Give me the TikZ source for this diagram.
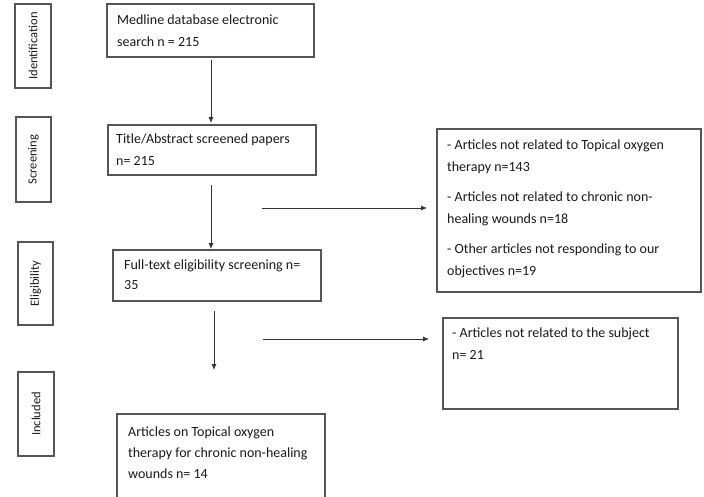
\documentclass[tikz,border=0pt]{standalone}
\usepackage{fontspec}
\setmainfont{Carlito}
\usetikzlibrary{arrows.meta}
\definecolor{boxgray}{HTML}{555555}
\definecolor{linegray}{HTML}{333333}
\definecolor{txtcol}{HTML}{1A1A1A}
\begin{document}
\begin{tikzpicture}[x=1pt,y=-1pt,
  box/.style={draw=boxgray,line width=1.1pt,inner sep=0pt,outer sep=0pt,anchor=north west},
  side/.style={rotate=90,inner sep=0pt,text=txtcol,font=\fontsize{12.5}{15}\selectfont},
  txt/.style={anchor=north west,inner sep=0pt,align=left,text=txtcol,font=\fontsize{14}{22}\selectfont},
  arr/.style={draw=linegray,line width=0.8pt,-{Latex[length=6pt,width=5pt]}},
  ln/.style={draw=linegray,line width=0.8pt}]
\useasboundingbox[fill=white] (0,0) rectangle (704,497);

% stage boxes
\node[box,minimum width=36pt,minimum height=84pt] (sid) at (15,4) {};
\node[side] (lid) at (sid.center) {Identification};
\node[box,minimum width=35pt,minimum height=85pt] (ssc) at (16,117) {};
\node[side] (lsc) at (ssc.center) {Screening};
\node[box,minimum width=35pt,minimum height=83pt] (sel) at (18,242) {};
\node[side] (lel) at (sel.center) {Eligibility};
\node[box,minimum width=36pt,minimum height=84pt] (sin) at (18,372) {};
\node[side] (lin) at (sin.center) {Included};

% main boxes
\node[box,minimum width=207pt,minimum height=53pt] (b1) at (107,4) {};
\node[txt] (t1) at (117,8.6) {\strut Medline database electronic\\search n = 215};
\node[box,minimum width=208pt,minimum height=50pt] (b2) at (108,125) {};
\node[txt] (t2) at (116,127.6) {\strut Title/Abstract screened papers\\n= 215};
\node[box,minimum width=208pt,minimum height=51pt] (b3) at (113,250) {};
\node[txt] (t3) at (124,253.6) {\strut Full-text eligibility screening n=\\[-2pt]35};
\node[box,minimum width=208pt,minimum height=90pt] (b4) at (117,414) {};
\node[txt] (t4) at (128,420.6) {\strut Articles on Topical oxygen\\[-1pt]therapy for chronic non-healing\\[-1pt]wounds n= 14};

% exclusion boxes
\node[box,minimum width=264pt,minimum height=163pt] (r1) at (437,129) {};
\node[txt] (tr1) at (447,133.6) {\strut - Articles not related to Topical oxygen\\therapy n=143\\[8pt]- Articles not related to chronic non-\\healing wounds n=18\\[8pt]- Other articles not responding to our\\objectives n=19};
\node[box,minimum width=235pt,minimum height=91pt] (r2) at (443,318) {};
\node[txt] (tr2) at (452,321.6) {\strut - Articles not related to the subject\\n= 21};

% connectors
\draw[arr] ([xshift=0.5pt,yshift=-3pt]b1.south) -- ([xshift=0.5pt,yshift=2pt]b1.south |- b2.north);
\draw[arr] ([xshift=-1pt,yshift=-10pt]b2.south) -- ([xshift=-1pt,yshift=1pt]b2.south |- b3.north);
\coordinate (c3e) at (214,370);
\draw[arr] ([xshift=-3pt,yshift=-10pt]b3.south) -- (c3e);
\coordinate (h1s) at (262,208);
\draw[arr] (h1s) -- ([xshift=-10pt]r1.west |- h1s);
\coordinate (h2s) at (263,339);
\draw[arr] (h2s) -- ([xshift=-14pt]r2.west |- h2s);
\end{tikzpicture}
\end{document}
